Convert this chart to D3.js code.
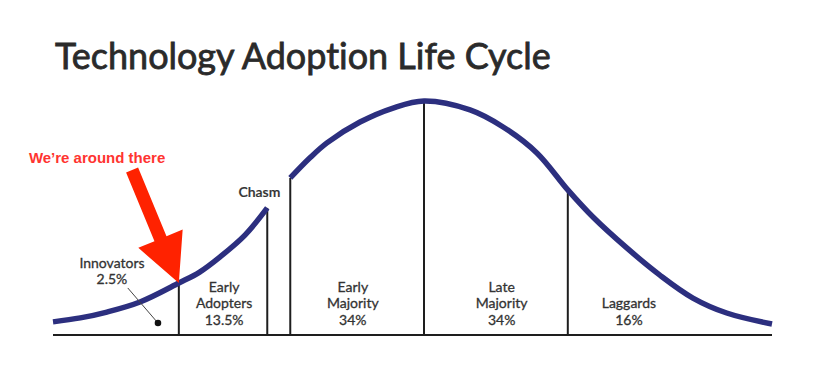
<!DOCTYPE html>
<html>
<head>
<meta charset="utf-8">
<script src="https://cdn.jsdelivr.net/npm/d3@7"></script>
<style>
  html, body { margin: 0; padding: 0; background: #fff; }
  svg { display: block; }
  text { font-variant-ligatures: none; }
  .lbl { font-family: Lato, "Open Sans", sans-serif; font-size: 14px; fill: #333; stroke: #333; stroke-width: 0.3px; text-anchor: middle; }
</style>
</head>
<body>
<svg id="chart" width="822" height="382"></svg>
<script>
// DATA (x = position along the adoption timeline 0-100, y = relative curve height 0-100)

const curveLeftX  = [0, 3.8, 7.5, 12.1, 17.5, 20.4, 23.2, 26.7, 29.8];
const curveLeftY  = [5.6, 7.3, 9.8, 14.1, 22.2, 26.9, 33.3, 42.7, 54.3];
const curveRightX = [33.0, 35.7, 38.1, 42.7, 47.3, 51.6, 58.0, 62.6, 67.3, 71.6, 75.1, 79.8, 84.4, 89.0, 93.7, 100];
const curveRightY = [67.1, 75.6, 82.1, 91.0, 97.0, 100, 96.2, 88.9, 77.8, 62.0, 50.4, 37.2, 25.6, 15.8, 9.4, 4.7];

const dividers = [17.5, 29.8, 33.0, 51.6, 71.6];

const groupLabelX = [8.2, 23.8, 41.7, 62.4, 80.1];
const groupLines  = [["Innovators", "2.5%"], ["Early", "Adopters", "13.5%"], ["Early", "Majority", "34%"], ["Late", "Majority", "34%"], ["Laggards", "16%"]];

const chasmLabel = { text: "Chasm", x: 28.7, y: 59 };
const innovatorPointer = { from: [10.4, 20.1], to: [14.6, 5.1] };
const callout = { text: "We\u2019re around there", from: [11.0, 70.5], to: [17.5, 22.2] };

const title = "Technology Adoption Life Cycle";

// SCALES

const svg = d3.select("#chart");
const x = d3.scaleLinear().domain([0, 100]).range([53, 772]);
const y = d3.scaleLinear().domain([0, 100]).range([335, 101]);

const toPts = (xs, ys) => xs.map((v, i) => ({ x: v, y: ys[i] }));
const leftPts = toPts(curveLeftX, curveLeftY);
const rightPts = toPts(curveRightX, curveRightY);
const allPts = leftPts.concat(rightPts);

// TITLE

const t = svg.append("text")
  .attr("x", 55).attr("y", 69)
  .attr("font-family", "Lato, 'Open Sans', sans-serif")
  .attr("font-size", 33)
  .attr("fill", "#2a2a2a")
  .attr("stroke", "#2a2a2a")
  .attr("stroke-width", 0.8)
  .text(title);
// scale font so the title spans the same width as in the picture
const tw = t.node().getComputedTextLength();
t.attr("font-size", 33 * 496 / tw);

// BASELINE + DIVIDERS

svg.append("line")
  .attr("x1", x(0)).attr("x2", x(100))
  .attr("y1", y(0)).attr("y2", y(0))
  .attr("stroke", "#1e1e1e").attr("stroke-width", 2);

svg.selectAll(".divider")
  .data(dividers)
  .join("line")
  .attr("class", "divider")
  .attr("x1", d => x(d)).attr("x2", d => x(d))
  .attr("y1", y(0))
  .attr("y2", d => y(allPts.find(p => p.x === d).y))
  .attr("stroke", "#1e1e1e").attr("stroke-width", 2);

// CURVE (two pieces, split by the chasm)

const line = d3.line().x(d => x(d.x)).y(d => y(d.y)).curve(d3.curveCatmullRom.alpha(0.5));

svg.selectAll(".curve")
  .data([leftPts, rightPts])
  .join("path")
  .attr("class", "curve")
  .attr("d", line)
  .attr("fill", "none")
  .attr("stroke", "#2c2f7f")
  .attr("stroke-width", 5.5);

// GROUP LABELS

const lineBase = [291.5, 308, 325];
groupLines.forEach((lines, gi) => {
  const first = gi === 0 ? 0 : 3 - lines.length;
  const g = svg.append("text").attr("class", "lbl");
  lines.forEach((txt, li) => {
    // Innovators sits higher, above its pointer
    const yy = gi === 0 ? 268 + li * 16 : lineBase[first + li];
    g.append("tspan").attr("x", x(groupLabelX[gi])).attr("y", yy).text(txt);
  });
});

svg.append("text")
  .attr("class", "lbl")
  .attr("x", x(chasmLabel.x)).attr("y", y(chasmLabel.y))
  .style("font-weight", 600)
  .style("stroke-width", "0.2px")
  .text(chasmLabel.text);

// Innovators pointer
svg.append("line")
  .attr("x1", x(innovatorPointer.from[0])).attr("y1", y(innovatorPointer.from[1]))
  .attr("x2", x(innovatorPointer.to[0])).attr("y2", y(innovatorPointer.to[1]))
  .attr("stroke", "#444").attr("stroke-width", 1);
svg.append("circle")
  .attr("cx", x(innovatorPointer.to[0])).attr("cy", y(innovatorPointer.to[1]))
  .attr("r", 3.3).attr("fill", "#111");

// RED CALLOUT ARROW

const ax0 = x(callout.from[0]), ay0 = y(callout.from[1]);
const ax1 = x(callout.to[0]), ay1 = y(callout.to[1]);
const len = Math.hypot(ax1 - ax0, ay1 - ay0);
const ux = (ax1 - ax0) / len, uy = (ay1 - ay0) / len;
const nx = -uy, ny = ux;
const shaftW = 6.5, headW = 24, headL = 48;
const bx = ax1 - ux * headL, by = ay1 - uy * headL;
const arrowPts = [
  [ax0 + nx * shaftW, ay0 + ny * shaftW],
  [bx + nx * shaftW, by + ny * shaftW],
  [bx + nx * headW, by + ny * headW],
  [ax1, ay1],
  [bx - nx * headW, by - ny * headW],
  [bx - nx * shaftW, by - ny * shaftW],
  [ax0 - nx * shaftW, ay0 - ny * shaftW]
];
svg.append("polygon")
  .attr("points", arrowPts.map(p => p.join(",")).join(" "))
  .attr("fill", "#ff2200");

svg.append("text")
  .attr("x", ax0 - 35).attr("y", ay0 - 7)
  .attr("text-anchor", "middle")
  .attr("font-family", "'Liberation Sans', Arial, sans-serif")
  .attr("font-weight", "bold")
  .attr("font-size", 15)
  .attr("fill", "#ff3430")
  .text(callout.text);
</script>
</body>
</html>
